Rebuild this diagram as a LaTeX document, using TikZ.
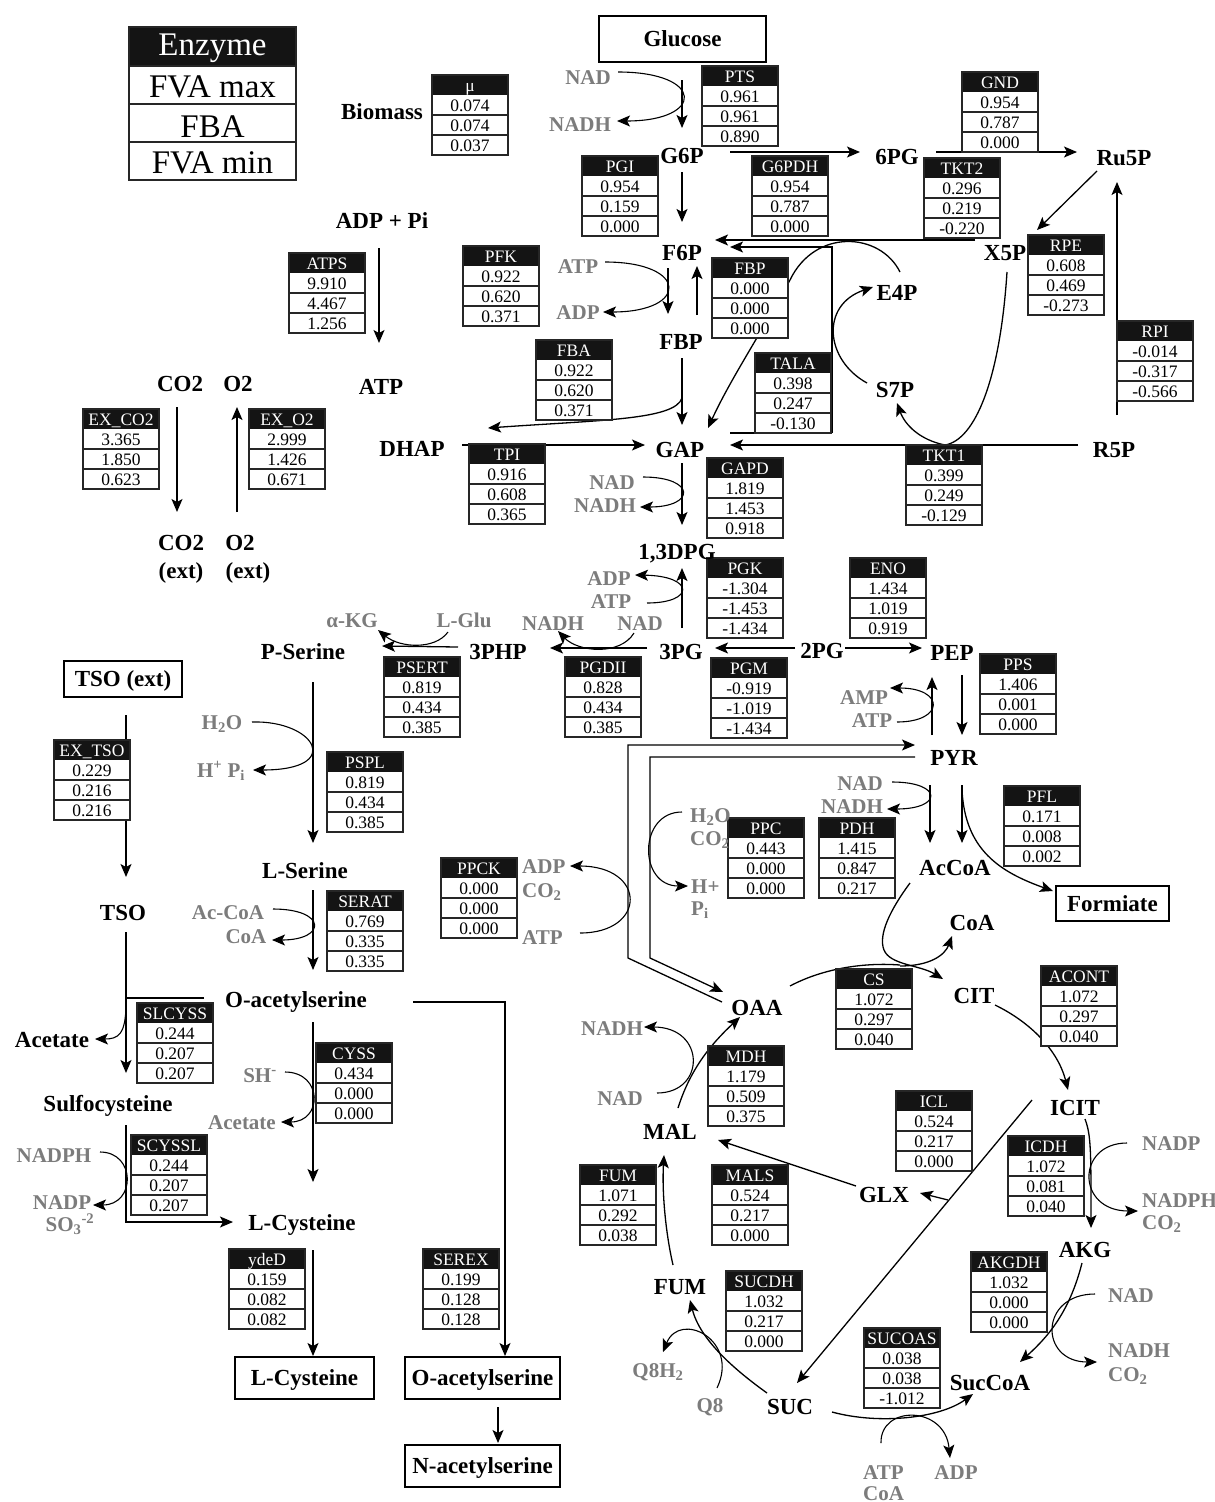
\documentclass[tikz,border=0pt]{standalone}
\usepackage{fontspec}
\setmainfont{Liberation Serif}
\usetikzlibrary{arrows.meta}
\definecolor{cofgray}{HTML}{7C7C7C}
\definecolor{hdrblack}{HTML}{141414}
\newcommand\ebox[7]{%
 \fill[white] (#2,#3) rectangle ++(76,80);
 \fill[hdrblack] (#2,#3) rectangle ++(76,20);
 \draw[bxl] (#2,#3) rectangle ++(76,80);
 \draw[bxl] ({#2},{#3+40}) -- ++(76,0);
 \draw[bxl] ({#2},{#3+60}) -- ++(76,0);
 \node[hd] (#1h) at ({#2+38},{#3+16}) {#4};
 \node[vl] (#1a) at ({#2+38},{#3+36}) {#5};
 \node[vl] (#1b) at ({#2+38},{#3+56}) {#6};
 \node[vl] (#1c) at ({#2+38},{#3+76}) {#7};
}
\begin{document}
\begin{tikzpicture}[x=1pt,y=-1pt,
 ln/.style={line width=1.3pt},
 ar/.style={line width=1.3pt,-{Stealth[length=13pt,width=11pt,inset=3pt]}},
 cl/.style={line width=1.1pt},
 ca/.style={line width=1.1pt,-{Stealth[length=13pt,width=11pt,inset=3pt]}},
 bxl/.style={line width=1.2pt, draw=black!85},
 hd/.style={font=\fontsize{17.5}{18}\selectfont, text=white, anchor=base, inner sep=0pt},
 vl/.style={font=\fontsize{17.5}{18}\selectfont, anchor=base, inner sep=0pt},
 lg/.style={font=\fontsize{33}{36}\selectfont, anchor=base, inner sep=0pt},
 met/.style={font=\fontsize{23}{26}\selectfont\bfseries, anchor=base, inner sep=0pt},
 cof/.style={font=\fontsize{21}{24}\selectfont\bfseries, text=cofgray, anchor=base, inner sep=0pt},
 mbox/.style={draw, line width=1.3pt, fill=white, font=\fontsize{23}{26}\selectfont\bfseries, text height=15pt, text depth=0pt, inner sep=0pt},
]
\useasboundingbox (0,0) rectangle (1215,1502);
\fill[white] (0,0) rectangle (1215,1502);

% ---------------- connectors (drawn first) ----------------
% glycolysis
\draw[ar] (682,80) -- (682,128);
\draw[ca] (618,72) .. controls (705,72) and (705,121) .. (617,121);
\draw[ar] (682,172) -- (682,222);
\draw[ar] (730,152) -- (860,152);
\draw[ar] (936,152) -- (1077,152);
\draw[ar] (1097,171) -- (1037,230);
\draw[ar] (1117,415) -- (1117,182);
\draw[ar] (668,268) -- (668,314);
\draw[ca] (605,262) .. controls (689,262) and (689,312) .. (603,312);
\draw[ar] (697,315) -- (697,266);
\draw[ar] (682,358) -- (682,425);
\draw[ar] (682,398) .. controls (675,420) and (600,420) .. (488,428);
\draw[ar] (462,445) -- (645,445);
\draw[ar] (682,463) -- (682,525);
\draw[ca] (643,477) .. controls (696,477) and (696,507) .. (640,507);
\draw[ar] (682,628) -- (682,568);
\draw[ca] (647,603) .. controls (695,603) and (695,576) .. (635,575);
\draw[ar] (647,648) -- (550,648);
\draw[ca] (634,633) .. controls (620,656) and (578,652) .. (558,631);
\draw[ar] (795,648) -- (715,648);
\draw[ar] (845,648) -- (922,648);
\draw[ar] (458,647) -- (382,646);
\draw[ca] (448,632) .. controls (435,650) and (400,648) .. (378,630);
% pentose phosphate / TKT / TALA
\draw[ar] (975,240) -- (715,240);
\draw[ar] (832,433) -- (832,247) -- (730,247);
\draw[ln] (832,433) -- (730,433);
\draw[ar] (900,272) .. controls (880,232) and (815,228) .. (790,280) .. controls (760,335) and (730,380) .. (708,428);
\draw[ar] (867,383) .. controls (825,360) and (820,305) .. (873,287);
\draw[ar] (1078,445) -- (730,445);
\draw[ar] (945,445) .. controls (920,440) and (905,425) .. (897,403);
\draw[ln] (945,445) .. controls (975,440) and (1000,380) .. (1007,272);
% ATP synthase, exchanges
\draw[ar] (379,248) -- (379,343);
\draw[ar] (177,407) -- (177,512);
\draw[ar] (237,512) -- (237,407);
% serine branch
\draw[ar] (313,682) -- (313,843);
\draw[ca] (252,722) .. controls (315,720) and (345,770) .. (253,770);
\draw[ar] (313,890) -- (313,970);
\draw[ca] (273,909) .. controls (327,909) and (327,940) .. (272,940);
\draw[ar] (313,1022) -- (313,1182);
\draw[ca] (285,1072) .. controls (323,1072) and (323,1122) .. (281,1122);
\draw[ar] (313,1250) -- (313,1356);
\draw[ar] (413,1002) -- (505,1002) -- (505,1356);
\draw[ar] (498,1407) -- (498,1443);
% TSO branch
\draw[ar] (126,715) -- (126,877);
\draw[ar] (126,932) -- (126,1073);
\draw[ln] (204,998) -- (126,998);
\draw[ca] (126,1003) .. controls (126,1035) and (118,1039) .. (95,1039);
\draw[ar] (126,1125) -- (126,1222) -- (233,1222);
\draw[ca] (100,1152) .. controls (136,1152) and (136,1205) .. (93,1205);
% PEP / PYR
\draw[ar] (962,675) -- (962,735);
\draw[ar] (932,735) -- (932,677);
\draw[ca] (897,722) .. controls (945,722) and (945,688) .. (890,688);
\draw[ar] (722,1002) -- (628,958) -- (628,745) -- (915,745);
\draw[ar] (915,757) -- (650,757) -- (650,958) -- (723,992);
\draw[ca] (682,812) .. controls (638,812) and (638,886) .. (688,886);
\draw[ca] (580,933) .. controls (647,933) and (647,866) .. (570,866);
\draw[ar] (930,785) -- (930,843);
\draw[ca] (892,782) .. controls (943,782) and (943,809) .. (887,809);
\draw[ar] (962,785) -- (962,843);
\draw[ar] (962,790) .. controls (965,850) and (1000,872) .. (1053,891);
% TCA
\draw[ln] (790,986) .. controls (820,970) and (860,962) .. (900,965);
\draw[ar] (910,883) .. controls (890,910) and (878,935) .. (884,950) .. controls (890,965) and (920,965) .. (943,979);
\draw[ar] (900,966) .. controls (930,966) and (945,955) .. (952,936);
\draw[ar] (995,1005) .. controls (1030,1022) and (1058,1050) .. (1068,1090);
\draw[ar] (1085,1119) .. controls (1091,1135) and (1091,1150) .. (1091,1228);
\draw[ca] (1127,1143) .. controls (1076,1143) and (1076,1211) .. (1138,1211);
\draw[ar] (1032,1100) -- (797,1383);
\draw[ar] (948,1200) -- (920,1193);
\draw[ar] (856,1186) -- (718,1140);
\draw[ar] (678,1108) .. controls (690,1070) and (710,1045) .. (740,1017);
\draw[ca] (657,1093) .. controls (706,1093) and (706,1027) .. (644,1027);
\draw[ar] (673,1265) .. controls (665,1230) and (662,1190) .. (664,1155);
\draw[ar] (767,1393) .. controls (735,1370) and (700,1340) .. (690,1300);
\draw[ca] (717,1388) .. controls (740,1340) and (680,1310) .. (663,1352);
\draw[ar] (1082,1263) .. controls (1070,1310) and (1050,1335) .. (1020,1362);
\draw[ca] (1095,1294) .. controls (1039,1294) and (1039,1362) .. (1097,1362);
\draw[ar] (832,1412) .. controls (880,1425) and (940,1418) .. (973,1394);
\draw[ca] (881,1443) .. controls (880,1405) and (945,1405) .. (950,1458);

% ---------------- legend ----------------
\fill[hdrblack] (129,27) rectangle (296,66);
\draw[bxl] (129,27) rectangle (296,180);
\draw[bxl] (129,66) -- (296,66);
\draw[bxl] (129,104) -- (296,104);
\draw[bxl] (129,142) -- (296,142);
\node[lg, text=white] (lgA) at (212.5,55) {Enzyme};
\node[lg] (lgB) at (212.5,97) {FVA max};
\node[lg] (lgC) at (212.5,137) {FBA};
\node[lg] (lgD) at (212.5,173) {FVA min};

% ---------------- enzyme boxes ----------------
\ebox{bMU}{432}{75}{μ}{0.074}{0.074}{0.037}
\ebox{bPTS}{702}{66}{PTS}{0.961}{0.961}{0.890}
\ebox{bGND}{962}{72}{GND}{0.954}{0.787}{0.000}
\ebox{bPGI}{582}{156}{PGI}{0.954}{0.159}{0.000}
\ebox{bGPD}{752}{156}{G6PDH}{0.954}{0.787}{0.000}
\ebox{bTKTb}{924}{158}{TKT2}{0.296}{0.219}{-0.220}
\ebox{bRPE}{1028}{235}{RPE}{0.608}{0.469}{-0.273}
\ebox{bRPI}{1117}{321}{RPI}{-0.014}{-0.317}{-0.566}
\ebox{bATPS}{289}{253}{ATPS}{9.910}{4.467}{1.256}
\ebox{bPFK}{463}{246}{PFK}{0.922}{0.620}{0.371}
\ebox{bFBP}{712}{258}{FBP}{0.000}{0.000}{0.000}
\ebox{bFBA}{536}{340}{FBA}{0.922}{0.620}{0.371}
\ebox{bTALA}{755}{353}{TALA}{0.398}{0.247}{-0.130}
\ebox{bEXC}{83}{409}{EX\_CO2}{3.365}{1.850}{0.623}
\ebox{bEXO}{249}{409}{EX\_O2}{2.999}{1.426}{0.671}
\ebox{bTPI}{469}{444}{TPI}{0.916}{0.608}{0.365}
\ebox{bTKTa}{906}{445}{TKT1}{0.399}{0.249}{-0.129}
\ebox{bGAPD}{707}{458}{GAPD}{1.819}{1.453}{0.918}
\ebox{bPGK}{707}{558}{PGK}{-1.304}{-1.453}{-1.434}
\ebox{bENO}{850}{558}{ENO}{1.434}{1.019}{0.919}
\ebox{bPSERT}{384}{657}{PSERT}{0.819}{0.434}{0.385}
\ebox{bPGDII}{565}{657}{PGDII}{0.828}{0.434}{0.385}
\ebox{bPGM}{711}{658}{PGM}{-0.919}{-1.019}{-1.434}
\ebox{bPPS}{980}{654}{PPS}{1.406}{0.001}{0.000}
\ebox{bEXT}{54}{740}{EX\_TSO}{0.229}{0.216}{0.216}
\ebox{bPSPL}{327}{752}{PSPL}{0.819}{0.434}{0.385}
\ebox{bPFL}{1004}{786}{PFL}{0.171}{0.008}{0.002}
\ebox{bPPC}{728}{818}{PPC}{0.443}{0.000}{0.000}
\ebox{bPDH}{819}{818}{PDH}{1.415}{0.847}{0.217}
\ebox{bPPCK}{441}{858}{PPCK}{0.000}{0.000}{0.000}
\ebox{bSERAT}{327}{891}{SERAT}{0.769}{0.335}{0.335}
\ebox{bCS}{836}{969}{CS}{1.072}{0.297}{0.040}
\ebox{bACONT}{1041}{966}{ACONT}{1.072}{0.297}{0.040}
\ebox{bSLCYSS}{137}{1003}{SLCYSS}{0.244}{0.207}{0.207}
\ebox{bCYSS}{316}{1043}{CYSS}{0.434}{0.000}{0.000}
\ebox{bMDH}{708}{1046}{MDH}{1.179}{0.509}{0.375}
\ebox{bICL}{896}{1091}{ICL}{0.524}{0.217}{0.000}
\ebox{bSCYSSL}{131}{1135}{SCYSSL}{0.244}{0.207}{0.207}
\ebox{bICDH}{1008}{1136}{ICDH}{1.072}{0.081}{0.040}
\ebox{bFUM}{580}{1165}{FUM}{1.071}{0.292}{0.038}
\ebox{bMALS}{712}{1165}{MALS}{0.524}{0.217}{0.000}
\ebox{bYDED}{229}{1249}{ydeD}{0.159}{0.082}{0.082}
\ebox{bSEREX}{423}{1249}{SEREX}{0.199}{0.128}{0.128}
\ebox{bSUCDH}{726}{1271}{SUCDH}{1.032}{0.217}{0.000}
\ebox{bAKGDH}{971}{1252}{AKGDH}{1.032}{0.000}{0.000}
\ebox{bSUCOAS}{864}{1328}{SUCOAS}{0.038}{0.038}{-1.012}

% ---------------- boxed metabolites ----------------
\node[mbox, minimum width=167pt, minimum height=46pt] (glc) at (682.5,39) {Glucose};
\node[mbox, minimum width=118pt, minimum height=36pt] (tsoext) at (123,679) {TSO (ext)};
\node[mbox, minimum width=113pt, minimum height=35pt] (form) at (1112.5,903.5) {Formiate};
\node[mbox, minimum width=139pt, minimum height=42pt] (cysbox) at (304.5,1378) {L-Cysteine};
\node[mbox, minimum width=155pt, minimum height=42pt] (oasbox) at (482.5,1378) {O-acetylserine};
\node[mbox, minimum width=155pt, minimum height=42pt] (nasbox) at (482.5,1466) {N-acetylserine};

% ---------------- metabolites ----------------
\node[met] (biom) at (382,119) {Biomass};
\node[met] (adppi) at (382,228) {ADP + Pi};
\node[met] (atp) at (381,394) {ATP};
\node[met] (g6p) at (682,163) {G6P};
\node[met] (pg6) at (897,164) {6PG};
\node[met] (ru5p) at (1124,165) {Ru5P};
\node[met] (x5p) at (1005,260) {X5P};
\node[met] (e4p) at (897,300) {E4P};
\node[met] (f6p) at (682,260) {F6P};
\node[met] (fbp) at (681,349) {FBP};
\node[met] (s7p) at (895,397) {S7P};
\node[met] (r5p) at (1114,457) {R5P};
\node[met] (dhap) at (412,456) {DHAP};
\node[met] (gap) at (680,457) {GAP};
\node[met] (dpg) at (677,559) {1,3DPG};
\node[met] (php) at (498,659) {3PHP};
\node[met] (pg3) at (681,659) {3PG};
\node[met] (pg2) at (822,658) {2PG};
\node[met] (pep) at (952,660) {PEP};
\node[met] (pser) at (303,659) {P-Serine};
\node[met] (pyr) at (954,765) {PYR};
\node[met] (accoa) at (955,875) {AcCoA};
\node[met] (coa) at (972,930) {CoA};
\node[met] (cit) at (974,1003) {CIT};
\node[met] (icit) at (1075,1115) {ICIT};
\node[met] (oaa) at (757,1015) {OAA};
\node[met] (lser) at (305,878) {L-Serine};
\node[met] (tso) at (123,920) {TSO};
\node[met] (oas) at (296,1007) {O-acetylserine};
\node[met] (acet) at (52,1047) {Acetate};
\node[met] (sulf) at (108,1111) {Sulfocysteine};
\node[met] (mal) at (670,1139) {MAL};
\node[met] (glx) at (884,1202) {GLX};
\node[met] (lcys) at (302,1230) {L-Cysteine};
\node[met] (akg) at (1085,1257) {AKG};
\node[met] (fum) at (680,1294) {FUM};
\node[met] (suc) at (790,1414) {SUC};
\node[met] (succoa) at (990,1390) {SucCoA};
\node[met] (co2i) at (180,391) {CO2};
\node[met] (o2i) at (238,391) {O2};
\node[met] (co2e) at (181,550) {CO2};
\node[met] (co2x) at (181,578) {(ext)};
\node[met] (o2e) at (240,550) {O2};
\node[met] (o2x) at (248,578) {(ext)};

% ---------------- cofactors ----------------
\node[cof] (k1) at (588,84) {NAD};
\node[cof] (k2) at (580,131) {NADH};
\node[cof] (k3) at (578,273) {ATP};
\node[cof] (k4) at (578,319) {ADP};
\node[cof] (k5) at (612,489) {NAD};
\node[cof] (k6) at (605,512) {NADH};
\node[cof] (k7) at (609,585) {ADP};
\node[cof] (k8) at (611,608) {ATP};
\node[cof] (k9) at (553,630) {NADH};
\node[cof] (k10) at (640,630) {NAD};
\node[cof] (k11) at (464,627) {L-Glu};
\node[cof] (k12) at (352,627) {α-KG};
\node[cof] (k13) at (222,729) {H\textsubscript{2}O};
\node[cof] (k14) at (221,777) {H\textsuperscript{+} P\textsubscript{i}};
\node[cof] (k15) at (864,704) {AMP};
\node[cof] (k16) at (872,727) {ATP};
\node[cof] (k17) at (860,790) {NAD};
\node[cof] (k18) at (852,813) {NADH};
\node[cof, anchor=base west] (k19) at (690,822) {H\textsubscript{2}O};
\node[cof, anchor=base west] (k20) at (690,845) {CO\textsubscript{2}};
\node[cof, anchor=base west] (k21) at (691,893) {H+};
\node[cof, anchor=base west] (k22) at (691,915) {P\textsubscript{i}};
\node[cof, anchor=base west] (k23) at (522,873) {ADP};
\node[cof, anchor=base west] (k24) at (522,897) {CO\textsubscript{2}};
\node[cof, anchor=base west] (k25) at (522,944) {ATP};
\node[cof] (k26) at (228,919) {Ac-CoA};
\node[cof] (k27) at (246,943) {CoA};
\node[cof] (k28) at (260,1082) {SH\textsuperscript{-}};
\node[cof] (k29) at (242,1129) {Acetate};
\node[cof] (k30) at (612,1035) {NADH};
\node[cof] (k31) at (620,1105) {NAD};
\node[cof] (k32) at (54,1162) {NADPH};
\node[cof] (k33) at (62,1209) {NADP};
\node[cof] (k34) at (70,1231) {SO\textsubscript{3}\textsuperscript{-2}};
\node[cof, anchor=base west] (k35) at (1142,1150) {NADP};
\node[cof, anchor=base west] (k36) at (1142,1207) {NADPH};
\node[cof, anchor=base west] (k37) at (1142,1229) {CO\textsubscript{2}};
\node[cof, anchor=base west] (k38) at (1108,1302) {NAD};
\node[cof, anchor=base west] (k39) at (1108,1357) {NADH};
\node[cof, anchor=base west] (k40) at (1108,1381) {CO\textsubscript{2}};
\node[cof] (k41) at (658,1377) {Q8H\textsubscript{2}};
\node[cof] (k42) at (710,1412) {Q8};
\node[cof, anchor=base west] (k43) at (863,1479) {ATP};
\node[cof, anchor=base west] (k44) at (863,1500) {CoA};
\node[cof] (k45) at (956,1479) {ADP};
\end{tikzpicture}
\end{document}
